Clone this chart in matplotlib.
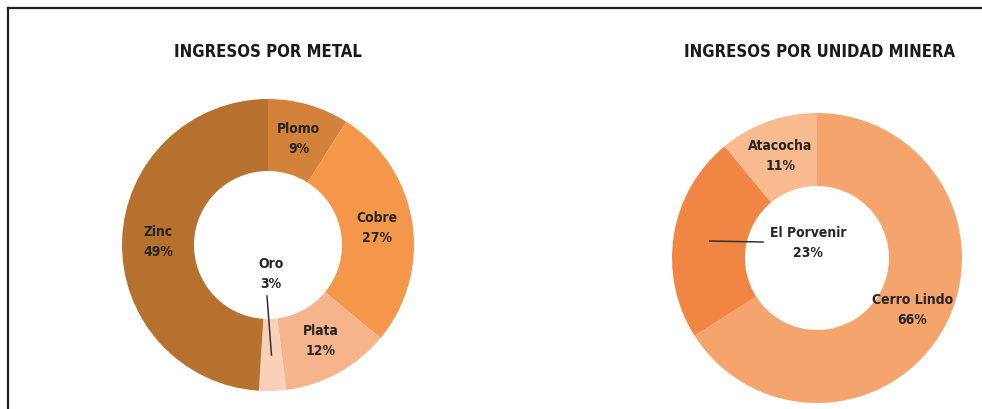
import numpy as np
import matplotlib.pyplot as plt

# datos
metales = ['Plomo', 'Cobre', 'Plata', 'Oro', 'Zinc']
pct_metal = [9, 27, 12, 3, 49]
col_metal = ['#D4813B', '#F4974A', '#F5B48B', '#F9D0B8', '#B7712F']

unidades = ['Cerro Lindo', 'El Porvenir', 'Atacocha']
pct_unidad = [66, 23, 11]
col_unidad = ['#F6A46E', '#F18543', '#F8BA8E']

titulos = ['INGRESOS POR METAL', 'INGRESOS POR UNIDAD MINERA']

W, H = 982, 409
fig = plt.figure(figsize=(W / 100, H / 100), dpi=100)
ax = fig.add_axes([0, 0, 1, 1])

TXT = '#262626'
fnt = dict(family='DejaVu Sans', fontstretch='condensed', fontweight='bold')


def donut(ax, vals, names, colors, cx, cy, r, hole, moved):
    '''dona estilo excel: etiqueta en el centro del anillo, salvo las movidas
    (moved = {nombre: (x etiqueta, y etiqueta, x fin linea, y fin linea)})'''
    Y = H - cy
    ax.pie(vals, colors=colors, startangle=90, counterclock=False,
           center=(cx, Y), radius=r,
           wedgeprops=dict(width=r - hole, linewidth=0))
    mid_r = (r + hole) / 2
    total = float(sum(vals))
    acc = 0
    for v, n in zip(vals, names):
        ang = np.deg2rad(90 - (acc + v / 2) / total * 360)
        acc += v
        px, py = cx + mid_r * np.cos(ang), Y + mid_r * np.sin(ang)
        label = '%s\n%d%%' % (n, round(v / total * 100))
        if n in moved:
            lx, ly, ex, ey = moved[n]
            ax.plot([px, ex], [py, H - ey], color='#333333', lw=1.1)
            px, py = lx, H - ly
        ax.text(px, py, label, ha='center', va='center', fontsize=10,
                color=TXT, linespacing=1.55, **fnt)


donut(ax, pct_metal, metales, col_metal, 268, 245, 146, 74,
      moved={'Oro': (271, 274, 267, 296)})
donut(ax, pct_unidad, unidades, col_unidad, 817, 258, 145, 72,
      moved={'El Porvenir': (808, 243, 763, 242)})

ax.text(268, H - 52, titulos[0], ha='center', va='center', fontsize=12,
        color='#1a1a1a', **fnt)
ax.text(820, H - 52, titulos[1], ha='center', va='center', fontsize=12,
        color='#1a1a1a', **fnt)

# marco
ax.plot([8, W], [H - 8, H - 8], color='#222222', lw=1.6)
ax.plot([8, 8], [H - 8, 0], color='#222222', lw=1.6)

ax.set_xlim(0, W)
ax.set_ylim(0, H)
ax.set_aspect('auto')
ax.axis('off')

fig.savefig('out.png', dpi=100, facecolor='white')
